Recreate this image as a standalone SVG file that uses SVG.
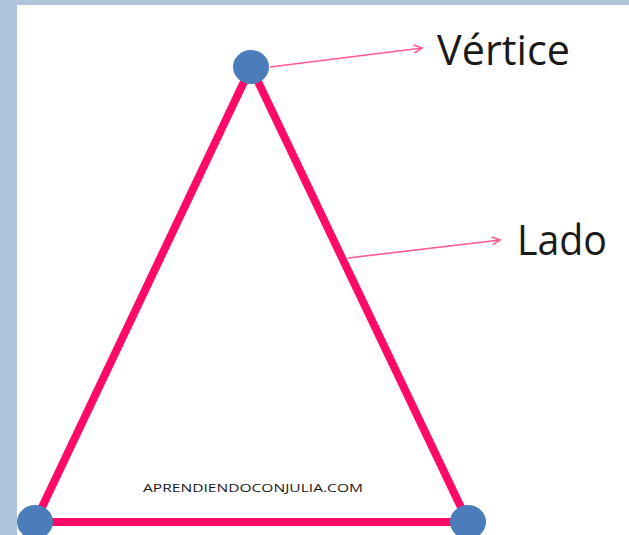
<svg xmlns="http://www.w3.org/2000/svg" width="629" height="535" viewBox="0 0 629 535">
  <style>
    .side { stroke: #ff0a66; stroke-width: 8; stroke-linecap: butt; fill: none; }
    .vertex { fill: #4a7dba; }
    .lead { stroke: #ff5a8f; stroke-width: 1.6; fill: none; marker-end: url(#chev); }
    .label { font-family: "Open Sans", "Noto Sans", sans-serif; fill: #1a1a1a; }
  </style>
  <defs>
    <marker id="chev" viewBox="0 0 10 10" refX="9" refY="5" markerWidth="10" markerHeight="10" markerUnits="userSpaceOnUse" orient="auto">
      <path d="M1,1 L9,5 L1,9" fill="none" stroke="#ff5a8f" stroke-width="1.6"/>
    </marker>
  </defs>
  <rect x="0" y="0" width="629" height="535" fill="#b0c4de"/>
  <rect x="17" y="5" width="612" height="530" fill="#ffffff"/>

  <g id="triangle">
    <line class="side" x1="251" y1="67" x2="35" y2="522"/>
    <line class="side" x1="251" y1="67" x2="468" y2="522"/>
    <line class="side" x1="35" y1="522" x2="468" y2="522"/>
  </g>

  <g id="connectors">
    <line class="lead" x1="270" y1="67" x2="422" y2="48"/>
    <line class="lead" x1="348" y1="258" x2="500" y2="240"/>
  </g>

  <g id="vertex-top"><ellipse class="vertex" cx="251" cy="67" rx="18" ry="17"/></g>
  <g id="vertex-left"><ellipse class="vertex" cx="35" cy="522" rx="18" ry="17"/></g>
  <g id="vertex-right"><ellipse class="vertex" cx="468" cy="522" rx="18" ry="17"/></g>

  <g id="label-vertice"><text class="label" x="437" y="65" font-size="42" textLength="133" lengthAdjust="spacingAndGlyphs">Vértice</text></g>
  <g id="label-lado"><text class="label" x="517" y="255" font-size="42" textLength="90" lengthAdjust="spacingAndGlyphs">Lado</text></g>
  <g id="watermark"><text class="label" x="143" y="492" font-size="11" textLength="220" lengthAdjust="spacingAndGlyphs" fill="#333333">APRENDIENDOCONJULIA.COM</text></g>
</svg>
